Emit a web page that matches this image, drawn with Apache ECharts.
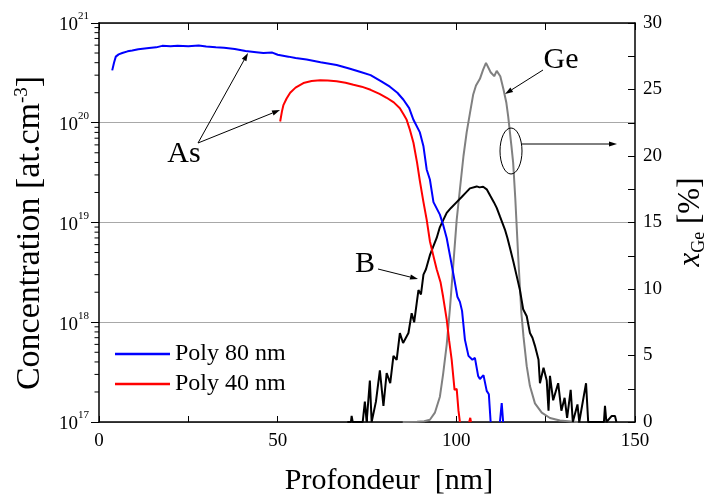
<!DOCTYPE html>
<html><head><meta charset="utf-8">
<script src="https://cdn.jsdelivr.net/npm/echarts@6/dist/echarts.min.js"></script>
<style>html,body{margin:0;padding:0;background:#fff}#c{width:712px;height:498px}</style>
</head><body><div id="c"></div><script>
// Depth [nm] vs concentration [at.cm-3]
const poly80 = [[3.7,3.35e20],[4.2,4.0e20],[4.7,4.6e20],[5.5,4.85e20],[6.5,5.0e20],[8,5.2e20],[9.3,5.3e20],[11,5.45e20],[14,5.6e20],[16,5.7e20],[17.7,5.9e20],[20,5.85e20],[22,5.9e20],[25,5.85e20],[27.9,5.95e20],[30,5.8e20],[32.7,5.7e20],[35,5.65e20],[38,5.5e20],[41,5.25e20],[44,5.1e20],[46,5.0e20],[48.5,5.05e20],[50,4.8e20],[53,4.6e20],[55,4.45e20],[58.1,4.3e20],[62,4.05e20],[66.5,3.8e20],[70,3.5e20],[73,3.25e20],[76,3.0e20],[79,2.6e20],[81.4,2.3e20],[83.5,2.0e20],[85.2,1.7e20],[86.8,1.4e20],[88,1.07e20],[89.8,8.0e19],[90.8,5.8e19],[91.7,3.4e19],[92.6,2.7e19],[93.6,1.6e19],[95.4,1.2e19],[96.3,9.5e18],[97.3,7.0e18],[98.3,4.5e18],[99.2,3.0e18],[100.3,1.8e18],[101,1.6e18],[101.6,1.3e18],[102.4,6.7e17],[103.4,4.6e17],[104.5,4.2e17],[105.2,4.4e17],[106.1,2.9e17],[106.6,2.7e17],[107.6,2.95e17],[108.5,2.05e17],[109.1,1.9e17],[109.6,1e17],[110.5,null],[112.2,1e17],[112.7,1.55e17],[113.1,1e17]];
const poly40 = [[50.7,1.03e20],[51.2,1.3e20],[51.6,1.5e20],[52.5,1.75e20],[53.5,2.0e20],[55,2.25e20],[57.2,2.5e20],[59.5,2.62e20],[61.9,2.66e20],[64,2.65e20],[66.5,2.6e20],[69,2.52e20],[71.2,2.4e20],[73.5,2.3e20],[76,2.14e20],[78.5,1.95e20],[80.5,1.78e20],[82.5,1.6e20],[84.2,1.4e20],[85.3,1.2e20],[86.1,1.07e20],[87,8.5e19],[88,6.3e19],[89,4.0e19],[89.8,2.6e19],[90.8,1.6e19],[91.7,1.07e19],[92.6,6.5e18],[93.6,4.6e18],[94.5,3.4e18],[95.6,2.5e18],[96.3,1.8e18],[97.3,1.07e18],[98.0,6.5e17],[98.7,4.2e17],[99.5,2.1e17],[100.1,2.15e17],[100.6,1.3e17],[101,1e17],[102,null],[103.6,1e17],[103.9,1.1e17],[104.1,1e17]];
const boron = [[69.5,1e17],[70.5,1e17],[70.7,1.15e17],[71,1e17],[73.8,1e17],[74.4,1.6e17],[74.9,1e17],[75.3,1e17],[75.8,2.6e17],[76.3,1e17],[77.5,1.6e17],[78.6,3.3e17],[79.6,1.45e17],[80.5,3.1e17],[81.5,2.45e17],[82.4,4.6e17],[83.3,4.2e17],[84.2,7.8e17],[85.1,6.2e17],[86.6,7.8e17],[87.5,1.23e18],[88.2,1.0e18],[88.9,1.55e18],[89.4,2.1e18],[90.1,1.9e18],[90.8,3.0e18],[91.5,3.4e18],[92.6,4.7e18],[93.5,5.7e18],[94.5,7.0e18],[95.4,9.0e18],[96.3,1.05e19],[97.3,1.25e19],[98.5,1.4e19],[100.1,1.6e19],[101.5,1.8e19],[102.4,1.95e19],[103.8,2.2e19],[105.7,2.3e19],[106.5,2.25e19],[107.5,2.28e19],[108.5,2.15e19],[109.5,1.85e19],[110.5,1.6e19],[111.3,1.4e19],[112.2,1.15e19],[113.6,8.5e18],[114.3,7.0e18],[115.1,5.4e18],[116,4.0e18],[116.9,2.9e18],[117.8,2.1e18],[118.7,1.35e18],[119.7,1.15e18],[120.6,7.8e17],[121.3,7.0e17],[122,5.8e17],[123,4.2e17],[123.4,2.45e17],[124.4,3.5e17],[125.3,2.6e17],[125.8,1.3e17],[126.2,2.9e17],[127.1,1.65e17],[128.5,2.45e17],[129.4,1.3e17],[130.3,1.75e17],[131,1.1e17],[132,2.1e17],[132.6,1e17],[133.9,1.5e17],[134.4,1e17],[136.3,2.45e17],[136.9,1e17],[141.3,1e17],[141.6,1.45e17],[142,1e17],[143.5,1.15e17],[144.4,1.15e17],[144.8,1e17]];
// Depth [nm] vs Ge fraction x_Ge [%]
const germanium = [[85,0],[89,0.02],[91,0.06],[92.6,0.17],[94,0.7],[95.4,1.9],[96.3,3.6],[97.3,5.8],[98.2,8.5],[99.2,12],[100.1,15.2],[101,17.5],[102,20.0],[102.9,21.8],[103.8,23.2],[104.7,24.6],[105.5,25.3],[106.6,25.8],[107.5,26.5],[108.3,27.0],[108.8,26.9],[109.6,26.3],[110.6,26.0],[111.3,26.4],[111.8,26.5],[112.3,26.0],[113.2,25.0],[114,24.0],[114.5,23.0],[115.4,20.8],[115.9,19.5],[116.5,16.8],[117.3,12.5],[118.2,8.2],[118.8,6.4],[119.7,4.2],[120.6,2.7],[122,1.4],[123.9,0.7],[126.2,0.3],[129,0.12],[132,0.03],[134,0]];
const seriesNames = ['Poly 80 nm','Poly 40 nm'];
const xRange = [0,150];
const xTickStep = 25;
const concRange = [1e17,1e21];
const geRange = [0,30];
const geTickStep = 2.5;
const decades = [17,18,19,20];
const minorLogTicks = [];
decades.forEach(d => { for (let k = 2; k <= 9; k++) minorLogTicks.push(k * Math.pow(10, d)); });

const FONT = 'Liberation Serif';
const chart = echarts.init(document.getElementById('c'), null, {renderer:'canvas'});

function arrow(x1,y1,x2,y2){
  const a = Math.atan2(y2-y1, x2-x1), L = 8, W = 2.6;
  const bx = x2 - L*Math.cos(a), by = y2 - L*Math.sin(a);
  return [
    {type:'line', z:100, shape:{x1:x1,y1:y1,x2:bx,y2:by}, style:{stroke:'#000', lineWidth:1}},
    {type:'polygon', z:100, shape:{points:[[x2,y2],[bx+W*Math.sin(a), by-W*Math.cos(a)],[bx-W*Math.sin(a), by+W*Math.cos(a)]]}, style:{fill:'#000'}}
  ];
}
function txt(x, y, text, size, extra){
  return Object.assign({type:'text', z:100, x:x, y:y, style:{text:text, font: size+'px "'+FONT+'"', fill:'#000', align:'center', verticalAlign:'middle', textAlign:'center', textVerticalAlign:'middle'}}, extra||{});
}

const graphics = [].concat(
  txt(184, 154, 'As', 30),
  arrow(198,143,248,53),
  arrow(198,143,280,110),
  txt(561, 60, 'Ge', 30),
  arrow(543,70,505,94),
  txt(365, 264, 'B', 30),
  arrow(378,269,418,279),
  [{type:'ellipse', z:100, shape:{cx:511, cy:151, rx:11, ry:23}, style:{fill:'none', stroke:'#000', lineWidth:1}}],
  arrow(522,144,617,144),
  txt(389, 481, 'Profondeur  [nm]', 30),
  [{type:'text', z:100, x:30, y:233, rotation:Math.PI/2, style:{text:'Concentration [at.cm{s|-3}]', font:'34px "'+FONT+'"', fill:'#000', align:'center', verticalAlign:'middle', textAlign:'center', textVerticalAlign:'middle',
     rich:{s:{fontSize:19, fontFamily:FONT, verticalAlign:'top', lineHeight:34}}}}],
  [{type:'text', z:100, x:691, y:222, rotation:Math.PI/2, style:{text:'{i|x}{g|Ge} [%]', font:'31px "'+FONT+'"', fill:'#000', align:'center', verticalAlign:'middle', textAlign:'center', textVerticalAlign:'middle',
     rich:{i:{fontSize:31, fontStyle:'italic', fontFamily:FONT, lineHeight:35, verticalAlign:'middle'}, g:{fontSize:18, fontFamily:FONT, verticalAlign:'bottom', lineHeight:35}}}}]
);

const option = {
  animation:false,
  backgroundColor:'#fff',
  textStyle:{fontFamily:FONT, color:'#000'},
  grid:{left:99, right:77, top:23, bottom:76, containLabel:false},
  legend:{
    data:seriesNames.map(n => ({name:n, icon:'rect'})), orient:'vertical', left:115, top:342, padding:0, itemWidth:55, itemHeight:2.5, itemGap:6,
    textStyle:{fontFamily:FONT, fontSize:24, color:'#000', lineHeight:24}
  },
  xAxis:[
    {type:'value', min:xRange[0], max:xRange[1], interval:xTickStep, position:'bottom',
     axisLine:{show:true, onZero:false, lineStyle:{color:'#000', width:1.5}},
     axisTick:{show:true, inside:true, length:6, lineStyle:{color:'#000'}},
     axisLabel:{margin:10, fontFamily:FONT, fontSize:19, color:'#000', formatter:v => (v % 50 === 0 ? String(v) : '')},
     splitLine:{show:false}},
    {type:'value', min:xRange[0], max:xRange[1], interval:xTickStep, position:'top',
     axisLine:{show:true, onZero:false, lineStyle:{color:'#000', width:1.5}},
     axisTick:{show:true, inside:true, length:7, lineStyle:{color:'#000'}},
     axisLabel:{show:false}, splitLine:{show:false}}
  ],
  yAxis:[
    {type:'log', logBase:10, min:concRange[0], max:concRange[1], position:'left',
     axisLine:{show:true, onZero:false, lineStyle:{color:'#000', width:1.5}},
     axisTick:{show:true, inside:false, length:8, lineStyle:{color:'#000'}},
     axisLabel:{margin:10, fontFamily:FONT, color:'#000',
       formatter:v => '{b|10}{s|' + Math.round(Math.log10(v)) + '}',
       rich:{b:{fontSize:19, fontFamily:FONT, lineHeight:24, verticalAlign:'bottom'}, s:{fontSize:11, fontFamily:FONT, lineHeight:24, verticalAlign:'top'}}},
     splitLine:{show:true, lineStyle:{color:'#a8a8a8', width:1.2}}},
    {type:'value', min:geRange[0], max:geRange[1], interval:geTickStep, position:'right',
     axisLine:{show:true, onZero:false, lineStyle:{color:'#000', width:1.5}},
     axisTick:{show:true, inside:true, length:7, lineStyle:{color:'#000'}},
     axisLabel:{margin:8, fontFamily:FONT, fontSize:19, color:'#000', formatter:v => (v % 5 === 0 ? String(v) : '')},
     splitLine:{show:false}}
  ],
  series:[
    {name:'Ge', type:'line', xAxisIndex:0, yAxisIndex:1, data:germanium, showSymbol:false, symbol:'none', lineStyle:{color:'#808080', width:2}, itemStyle:{color:'#808080'}, z:2},
    {name:'B', type:'line', xAxisIndex:0, yAxisIndex:0, data:boron, showSymbol:false, symbol:'none', lineStyle:{color:'#000', width:2}, itemStyle:{color:'#000'}, z:3},
    {name:seriesNames[1], type:'line', xAxisIndex:0, yAxisIndex:0, data:poly40, showSymbol:false, symbol:'none', connectNulls:false, lineStyle:{color:'#ff0000', width:2}, itemStyle:{color:'#ff0000'}, z:4},
    {name:seriesNames[0], type:'line', xAxisIndex:0, yAxisIndex:0, data:poly80, showSymbol:false, symbol:'none', connectNulls:false, lineStyle:{color:'#0000ff', width:2}, itemStyle:{color:'#0000ff'}, z:5},
    {name:'minorTicks', type:'custom', xAxisIndex:0, yAxisIndex:0, clip:false, silent:true, z:10,
     data:minorLogTicks.map(v => [xRange[0], v]),
     renderItem:(params, api) => {
       const p = api.coord([xRange[0], api.value(1)]);
       return {type:'line', shape:{x1:p[0]-4.5, y1:p[1], x2:p[0], y2:p[1]}, style:{stroke:'#000', lineWidth:1}};
     }}
  ],
  graphic:graphics
};
chart.setOption(option);
</script></body></html>
